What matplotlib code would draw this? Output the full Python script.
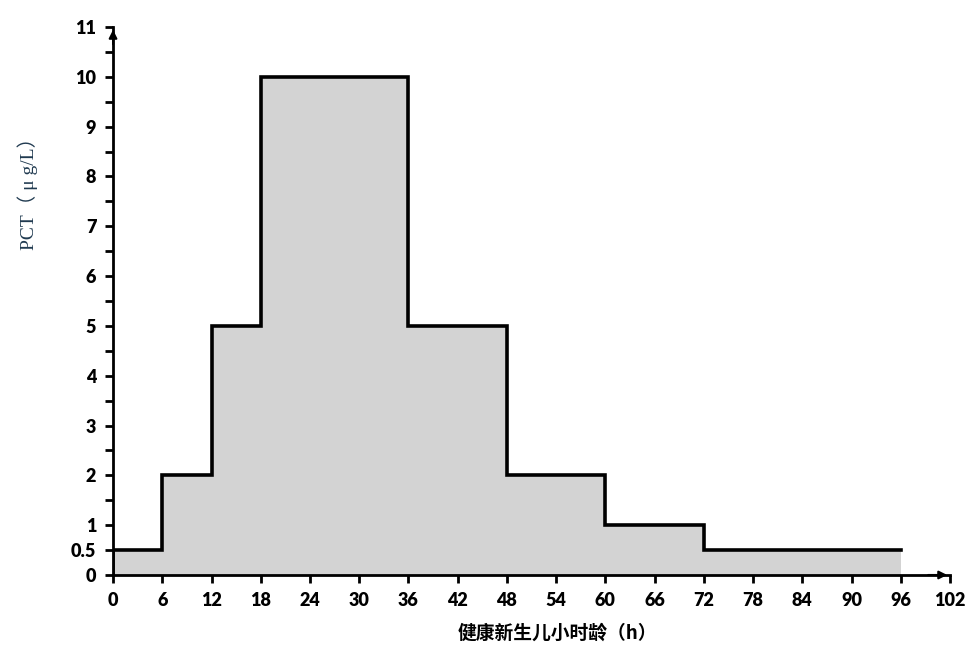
import matplotlib
matplotlib.use("Agg")
import matplotlib.pyplot as plt
import numpy as np

# step edges (hours) and PCT upper limits (ug/L)
hour_edges = [0, 6, 12, 18, 36, 48, 60, 72, 96]
pct_values = [0.5, 2, 5, 10, 5, 2, 1, 0.5]
x_ticks = list(range(0, 103, 6))
y_ticks = [0, 0.5, 1, 2, 3, 4, 5, 6, 7, 8, 9, 10, 11]
y_tick_labels = ["0", "0.5", "1", "2", "3", "4", "5", "6", "7", "8", "9", "10", "11"]

fig = plt.figure(figsize=(9.77, 6.52), dpi=100)
ax = fig.add_axes([0.1157, 0.1181, 0.8567, 0.8405])

xs = np.repeat(hour_edges, 2)[1:-1]
ys = np.repeat(pct_values, 2)
ax.fill_between(xs, ys, 0, color="#d3d3d3", linewidth=0, zorder=1)
ax.plot(np.concatenate([[0], xs]), np.concatenate([[0], ys]),
        color="black", linewidth=2.6, solid_joinstyle="miter", zorder=3)

ax.set_xlim(0, 102)
ax.set_ylim(0, 11)
for side in ("top", "right"):
    ax.spines[side].set_visible(False)
for side in ("left", "bottom"):
    ax.spines[side].set_linewidth(2.0)
    ax.spines[side].set_zorder(4)

# arrows at axis ends
ax.annotate("", xy=(102, 0), xytext=(99, 0),
            arrowprops=dict(arrowstyle="-|>", color="black", lw=1.5, mutation_scale=12),
            annotation_clip=False)
ax.annotate("", xy=(0, 11), xytext=(0, 10.6),
            arrowprops=dict(arrowstyle="-|>", color="black", lw=1.5, mutation_scale=12),
            annotation_clip=False)

ax.set_xticks(x_ticks)
ax.set_xticklabels([str(v) for v in x_ticks])
ax.set_yticks(y_ticks)
ax.set_yticklabels(y_tick_labels)
ax.set_yticks(np.arange(1.5, 11, 1.0), minor=True)
ax.tick_params(axis="both", which="major", direction="out", length=6, width=2, pad=6)
ax.tick_params(axis="y", which="minor", direction="out", length=6, width=2)
for lab in ax.get_xticklabels() + ax.get_yticklabels():
    lab.set_family(["Lato", "DejaVu Sans"])
    lab.set_fontweight("heavy")
    lab.set_fontsize(13)

ax.set_ylabel("PCT（ μ g/L）", family=["Liberation Serif", "Noto Sans CJK SC"],
              fontsize=14, color="#203a50")
ax.yaxis.set_label_coords(-0.09, 0.705)
ax.set_xlabel("健康新生儿小时龄（h）", family=["Noto Sans CJK SC", "DejaVu Sans"],
              fontsize=13.5, fontweight="bold", va="center")
ax.xaxis.set_label_coords(0.531, -0.106)

fig.savefig("out.png", dpi=100)
